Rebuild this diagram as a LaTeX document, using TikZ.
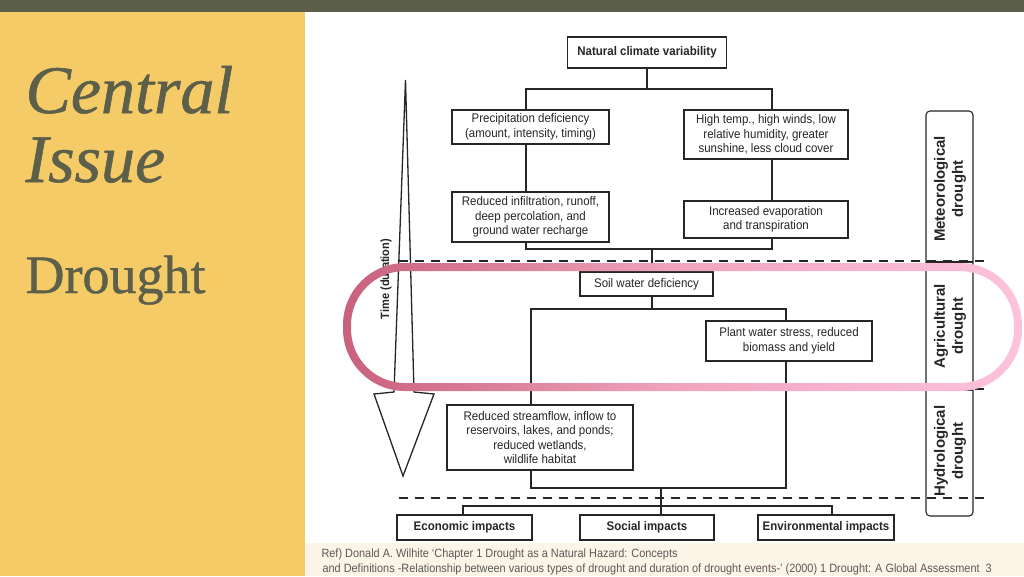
\documentclass[tikz,border=0pt]{standalone}
\usepackage{fontspec}
\setmainfont{Liberation Serif}
\setsansfont{Liberation Sans}
\newfontfamily\titlefont[FakeBold=0.8]{Liberation Serif}
\newfontfamily\diafont[FakeStretch=0.92]{Liberation Sans}
\newfontfamily\reffont[FakeStretch=0.91]{Liberation Sans}
\definecolor{barolive}{HTML}{5B5E49}
\definecolor{sideyellow}{HTML}{F5CB67}
\definecolor{titleolive}{HTML}{5C5F4A}
\definecolor{footcream}{HTML}{FCF4E6}
\definecolor{reftext}{HTML}{5A5A5A}
\definecolor{ink}{HTML}{262626}
\definecolor{pinkL}{HTML}{C8617D}
\definecolor{pinkM}{HTML}{F2A4BF}
\definecolor{pinkR}{HTML}{FDC3DB}
\begin{document}
\begin{tikzpicture}[x=1pt,y=-1pt,
  box/.style={draw=ink,line width=1.1pt,fill=white,inner sep=0pt,align=center,
    text=ink,font=\diafont\fontsize{12.5}{14.5}\selectfont},
  bbox/.style={box,font=\diafont\bfseries\fontsize{12.5}{14.5}\selectfont},
  link/.style={draw=ink,line width=1.1pt},
  zone/.style={draw=ink,line width=1.6pt,dash pattern=on 9pt off 7pt},
  side/.style={rotate=90,align=center,text=ink,
    font=\sffamily\bfseries\fontsize{15}{18}\selectfont}]
  \useasboundingbox (0,0) rectangle (1024,576);
  \fill[white] (305,12) rectangle (1024,543);
  \fill[footcream] (305,543) rectangle (1024,576);
  \fill[sideyellow] (0,12) rectangle (305,576);
  \fill[barolive] (0,0) rectangle (1024,12);

  \node[anchor=base west,text=titleolive,font=\titlefont\itshape\fontsize{68}{68}\selectfont] (title1) at (22,113) {Central};
  \node[anchor=base west,text=titleolive,font=\titlefont\itshape\fontsize{68}{68}\selectfont] (title2) at (22,182) {Issue};
  \node[anchor=base west,text=titleolive,font=\titlefont\fontsize{54}{54}\selectfont] (title3) at (22,293) {Drought};

  \draw[zone] (399,261) -- (988,261);
  \draw[zone] (399,389) -- (988,389);
  \draw[zone] (399,498) -- (988,498);

  \node[bbox,minimum width=159,minimum height=31] (natural) at (647,52.5) {Natural climate variability};
  \node[box,minimum width=157,minimum height=34] (precip) at (530.5,127) {Precipitation deficiency\\(amount, intensity, timing)};
  \node[box,minimum width=164,minimum height=49] (hightemp) at (766,134.5) {High temp., high winds, low\\relative humidity, greater\\sunshine, less cloud cover};
  \node[box,minimum width=157,minimum height=50] (infil) at (530.5,217) {Reduced infiltration, runoff,\\deep percolation, and\\ground water recharge};
  \node[box,minimum width=164,minimum height=37] (evap) at (766,219.5) {Increased evaporation\\and transpiration};
  \node[box,minimum width=133,minimum height=24] (soil) at (646.5,284) {Soil water deficiency};
  \node[box,minimum width=166,minimum height=40] (plant) at (789,341) {Plant water stress, reduced\\biomass and yield};
  \node[box,minimum width=186,minimum height=65] (stream) at (540,437.5) {Reduced streamflow, inflow to\\reservoirs, lakes, and ponds;\\reduced wetlands,\\wildlife habitat};
  \node[bbox,minimum width=135,minimum height=25] (econ) at (464.5,527.5) {Economic impacts};
  \node[bbox,minimum width=134,minimum height=25] (social) at (647,527.5) {Social impacts};
  \node[bbox,minimum width=136,minimum height=25] (enviro) at (826,527.5) {Environmental impacts};

  \coordinate (colL) at (526,0);
  \coordinate (colR) at (772,0);
  \coordinate (colL2) at (531,0);
  \coordinate (colR2) at (786,0);
  \coordinate (busTop) at (647,89);
  \coordinate (busMid) at (652,249);
  \coordinate (busLow) at (652,309);
  \coordinate (busImp) at (661,488);
  \coordinate (busOut) at (661,506);

  \draw[link] (natural.south) -- (busTop);
  \draw[link] (precip.north -| colL) |- (busTop) -| (hightemp.north -| colR);
  \draw[link] (precip.south -| colL) -- (infil.north -| colL);
  \draw[link] (hightemp.south -| colR) -- (evap.north -| colR);
  \draw[link] (infil.south -| colL) |- (busMid) -| (evap.south -| colR);
  \draw[link] (busMid) -- (soil.north -| busMid);
  \draw[link] (soil.south -| busLow) -- (busLow);
  \draw[link] (stream.north -| colL2) |- (busLow) -| (plant.north -| colR2);
  \draw[link] (stream.south -| colL2) |- (busImp) -| (plant.south -| colR2);
  \draw[link] (busImp) -- (busOut);
  \draw[link] ([xshift=-1.5pt]econ.north) |- (busOut) -| ([xshift=6pt]enviro.north);
  \draw[link] (busOut) -- (social.north -| busOut);

  \draw[link,rounded corners=4] (926,111) rectangle (973,516);
  \draw[link] (926,262) -- (973,262);
  \draw[link] (926,390) -- (973,390);
  \node[side] (met) at (950,189) {Meteorological\\drought};
  \node[side] (agri) at (950,326) {Agricultural\\drought};
  \node[side] (hydro) at (950,451) {Hydrological\\drought};

  \draw[link,line width=1.3pt,line join=miter] (405.5,80) -- (414,392) -- (434,394)
    -- (403,476) -- (374,394) -- (394,392) -- cycle;
  \node[rotate=90,text=ink,font=\diafont\bfseries\fontsize{12}{14}\selectfont] (tlabel) at (386,279) {Time (duration)};

  \shade[left color=pinkL,right color=pinkR,middle color=pinkM,even odd rule]
    [rounded corners=62] (343,263) rectangle (1022,391)
    [rounded corners=54] (351,271) rectangle (1014,383);

  \node[anchor=base west,text=reftext,font=\reffont\fontsize{12}{14}\selectfont] (ref1) at (318,557)
    {Ref) Donald A. Wilhite ‘Chapter 1 Drought as a Natural Hazard: Concepts};
  \node[anchor=base west,text=reftext,font=\reffont\fontsize{12}{14}\selectfont] (ref2) at (319,572)
    {and Definitions -Relationship between various types of drought and duration of drought events-’ (2000) 1 Drought: A Global Assessment\ \ 3};
\end{tikzpicture}
\end{document}
